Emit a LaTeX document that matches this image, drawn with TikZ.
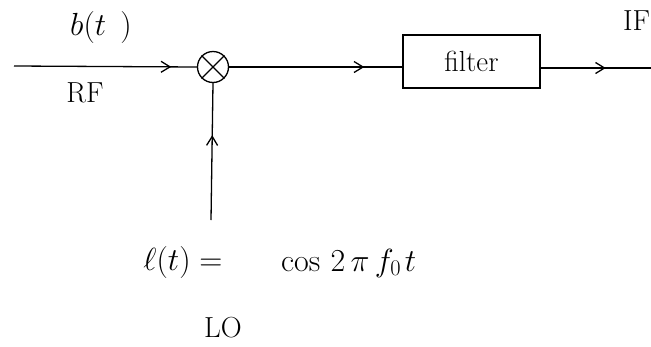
\documentclass[tikz,border=0pt]{standalone}
\usepackage{fix-cm}
\usetikzlibrary{arrows.meta,decorations.markings}
\begin{document}
\begin{tikzpicture}[x=1pt,y=1pt,
  wire/.style={line width=1.3pt},
  midarr/.style={decoration={markings,mark=at position #1 with {\arrow{Straight Barb[length=9pt,width=11pt,line width=1.3pt]}}},postaction={decorate}},
  lbl/.style={font=\fontsize{29}{33}\selectfont, inner sep=0pt},
  mlbl/.style={font=\fontsize{32}{36}\selectfont, inner sep=0pt},
  mixer/.style={circle, draw, line width=1.3pt, minimum size=31pt, inner sep=0pt},
  box/.style={draw, line width=1.3pt, minimum width=137pt, minimum height=53pt, inner sep=0pt}
]
\useasboundingbox (0,0) rectangle (651,-346);
\coordinate (inp) at (14,-66);
\node[mixer] (mix) at (213,-67) {};
\draw[line width=1.2pt] (mix.north west) -- (mix.south east) (mix.north east) -- (mix.south west);
\node[box] (filt) at (471.5,-61.5) {\fontsize{29}{33}\selectfont filter};
\coordinate (out) at (651,-68);
\coordinate (lo) at (211,-220);
\draw[wire,midarr=0.86] (inp) -- (mix.west);
\draw[wire,midarr=0.78] (mix.east) -- (filt.west |- mix.east);
\draw[wire,midarr=0.59] (filt.east |- out) -- (out);
\draw[wire,midarr=0.62] (lo) -- (mix.south);
\node[mlbl] (bt) at (101,-27) {$b(t\;\,)$};
\node[lbl] (rf) at (85,-93) {RF};
\node[lbl,anchor=west] (if) at (623,-21) {IF};
\node[mlbl] (lt) at (183,-262) {$\ell(t)=$};
\node[mlbl,anchor=west] (cosx) at (281,-263) {$\cos\hspace{5pt}2\,\pi\, f_{0\,} t$};
\node[lbl] (lotxt) at (223,-328) {LO};
\end{tikzpicture}
\end{document}
